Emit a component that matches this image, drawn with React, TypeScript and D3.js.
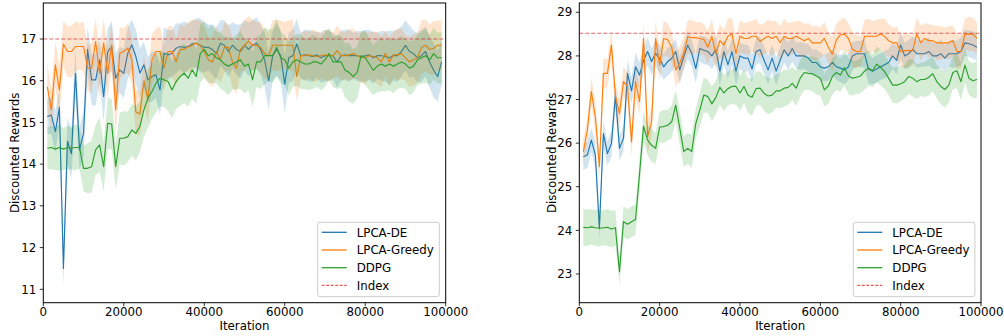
import React from 'react';
import * as d3 from 'd3';

// ---------- data ----------
const ITER = d3.range(1, 100).map((i) => i * 1000);

const L_DE = [
  15.14, 15.18, 14.78, 15.36, 11.5, 14.55, 14.25, 16.18, 14.34, 14.74,
  16.75, 16.02, 16.02, 16.5, 15.62, 16.7, 16.82, 16.06, 16.26, 16.18,
  16.66, 16.86, 16.58, 16.18, 16.38, 16.02, 16.1, 16.14, 15.78, 16.66,
  16.62, 16.66, 16.78, 16.82, 16.8, 16.82, 16.88, 16.9, 16.85, 16.8,
  16.8, 16.75, 16.65, 16.9, 16.85, 16.7, 16.85, 16.75, 16.7, 16.85,
  16.75, 16.85, 16.9, 16.75, 16.5, 16.0, 16.6, 16.75, 16.6, 15.92,
  16.55, 16.6, 16.88, 16.6, 16.62, 16.6, 16.58, 16.62, 16.55, 16.6,
  16.6, 16.6, 16.45, 16.6, 16.62, 16.6, 16.6, 16.6, 16.58, 16.6,
  16.62, 16.55, 16.6, 16.6, 16.58, 16.55, 16.6, 16.6, 16.7, 16.85,
  16.7, 16.65, 16.55, 16.6, 16.7, 16.45, 16.25, 16.1, 16.45,
];
const L_GREEDY = [
  15.86, 15.3, 16.38, 15.78, 16.88, 16.7, 16.7, 16.82, 16.82, 16.82,
  16.3, 16.3, 16.94, 16.18, 16.9, 16.18, 16.86, 15.3, 16.66, 16.7,
  16.78, 16.5, 15.25, 15.2, 16.0, 15.55, 16.5, 16.7, 16.7, 16.3,
  16.7, 16.7, 16.45, 16.75, 16.75, 16.8, 16.85, 16.9, 16.85, 16.7,
  16.5, 16.45, 16.7, 16.5, 16.8, 16.8, 16.45, 16.3, 16.75, 16.85,
  16.95, 16.85, 16.85, 16.8, 16.65, 16.6, 16.85, 16.85, 16.85, 16.85,
  16.85, 16.85, 16.1, 16.6, 16.6, 16.62, 16.6, 16.58, 16.6, 16.62,
  16.6, 16.6, 16.72, 16.6, 16.6, 16.62, 16.65, 16.6, 16.55, 16.55,
  16.6, 16.58, 16.55, 16.45, 16.65, 16.45, 16.62, 16.62, 16.65, 16.55,
  16.45, 16.5, 16.55, 16.8, 16.85, 16.75, 16.78, 16.85, 16.85,
];
const L_DDPG = [
  14.38, 14.4, 14.36, 14.4, 14.36, 14.4, 14.38, 14.4, 14.4, 13.9,
  13.9, 13.94, 14.34, 14.46, 13.94, 14.98, 14.96, 13.94, 14.62, 14.62,
  14.66, 14.82, 14.74, 14.9, 15.3, 15.58, 15.74, 15.94, 16.06, 16.02,
  15.98, 15.78, 15.98, 16.1, 16.18, 16.06, 16.26, 16.1, 16.65, 16.75,
  16.6, 16.65, 16.55, 16.5, 16.4, 16.35, 16.4, 16.45, 16.5, 16.35,
  16.4, 16.02, 16.45, 16.45, 16.6, 16.6, 16.6, 16.8, 16.55, 16.5,
  16.3, 16.45, 16.5, 16.45, 16.4, 16.4, 16.45, 16.45, 16.4, 16.5,
  16.65, 16.45, 16.45, 16.45, 16.25, 16.2, 16.1, 16.2, 16.6, 16.55,
  16.4, 16.25, 16.35, 16.4, 16.35, 16.4, 16.35, 16.4, 16.45, 16.4,
  16.3, 16.35, 16.5, 16.55, 16.6, 16.5, 16.65, 16.55, 16.55,
];
const L_DE_STD = [
  0.42, 0.45, 0.5, 0.45, 0.42, 0.55, 0.6, 0.6, 0.5, 0.55,
  0.55, 0.6, 0.62, 0.55, 0.6, 0.55, 0.6, 0.6, 0.55, 0.6,
  0.62, 0.6, 0.65, 0.6, 0.55, 0.55, 0.6, 0.55, 0.6, 0.62,
  0.6, 0.55, 0.6, 0.55, 0.62, 0.55, 0.55, 0.6, 0.65, 0.6,
  0.55, 0.6, 0.62, 0.55, 0.6, 0.62, 0.55, 0.6, 0.65, 0.6,
  0.65, 0.6, 0.62, 0.6, 0.65, 0.7, 0.6, 0.62, 0.6, 0.7,
  0.6, 0.62, 0.6, 0.55, 0.6, 0.62, 0.6, 0.55, 0.6, 0.62,
  0.6, 0.55, 0.62, 0.6, 0.6, 0.62, 0.55, 0.6, 0.6, 0.62,
  0.6, 0.62, 0.55, 0.6, 0.6, 0.65, 0.6, 0.62, 0.6, 0.6,
  0.62, 0.55, 0.6, 0.62, 0.6, 0.62, 0.65, 0.6, 0.55,
];
const L_GREEDY_STD = [
  0.55, 0.5, 0.55, 0.6, 0.55, 0.6, 0.62, 0.6, 0.55, 0.6,
  0.55, 0.6, 0.55, 0.6, 0.58, 0.6, 0.55, 0.6, 0.62, 0.55,
  0.6, 0.55, 0.55, 0.5, 0.6, 0.55, 0.6, 0.55, 0.6, 0.55,
  0.6, 0.62, 0.55, 0.6, 0.55, 0.6, 0.62, 0.55, 0.6, 0.6,
  0.55, 0.6, 0.62, 0.55, 0.6, 0.55, 0.6, 0.62, 0.55, 0.6,
  0.6, 0.62, 0.55, 0.6, 0.6, 0.55, 0.6, 0.62, 0.6, 0.55,
  0.6, 0.62, 0.6, 0.55, 0.6, 0.55, 0.62, 0.6, 0.55, 0.6,
  0.62, 0.55, 0.6, 0.6, 0.55, 0.62, 0.6, 0.55, 0.6, 0.62,
  0.55, 0.6, 0.62, 0.6, 0.55, 0.6, 0.55, 0.62, 0.6, 0.55,
  0.6, 0.62, 0.6, 0.65, 0.62, 0.6, 0.65, 0.6, 0.6,
];
const L_DDPG_STD = [
  0.5, 0.52, 0.5, 0.55, 0.5, 0.52, 0.5, 0.55, 0.5, 0.55,
  0.6, 0.62, 0.6, 0.65, 0.58, 0.62, 0.6, 0.55, 0.62, 0.65,
  0.6, 0.62, 0.65, 0.6, 0.65, 0.7, 0.65, 0.7, 0.68, 0.65,
  0.7, 0.68, 0.65, 0.7, 0.72, 0.68, 0.7, 0.65, 0.7, 0.68,
  0.65, 0.7, 0.62, 0.68, 0.65, 0.7, 0.62, 0.65, 0.7, 0.65,
  0.62, 0.65, 0.6, 0.65, 0.68, 0.62, 0.65, 0.7, 0.62, 0.6,
  0.65, 0.6, 0.62, 0.65, 0.6, 0.62, 0.65, 0.6, 0.62, 0.65,
  0.62, 0.6, 0.65, 0.62, 0.65, 0.7, 0.65, 0.62, 0.6, 0.65,
  0.62, 0.6, 0.62, 0.65, 0.6, 0.62, 0.65, 0.6, 0.62, 0.6,
  0.65, 0.62, 0.6, 0.62, 0.65, 0.6, 0.62, 0.6, 0.62,
];

const R_DE = [
  25.69, 25.73, 26.07, 25.73, 24.05, 26.22, 25.76, 25.99, 27.1, 25.88,
  26.11, 27.6, 27.2, 27.75, 27.56, 27.9, 28.1, 27.87, 28.06, 27.94,
  27.75, 27.87, 27.94, 28.1, 27.68, 27.98, 28.25, 28.06, 27.71, 28.17,
  28.13, 28.1, 28.0, 28.15, 27.65, 28.1, 27.8, 28.1, 27.65, 28.0,
  27.95, 27.95, 27.7, 28.1, 28.14, 27.9, 27.68, 27.95, 27.65, 27.9,
  28.14, 28.0, 28.17, 28.0, 28.0, 28.0, 27.95, 27.85, 27.85, 27.75,
  27.72, 27.75, 27.85, 27.75, 27.72, 27.68, 27.75, 28.0, 28.05, 28.05,
  28.05, 27.7, 27.65, 27.7, 27.75, 27.8, 27.85, 28.0, 27.9, 28.25,
  28.0, 28.05, 28.15, 28.05, 28.05, 28.05, 28.1, 28.0, 28.0, 28.05,
  27.95, 28.05, 28.05, 28.05, 28.1, 28.3, 28.28, 28.25, 28.2,
];
const R_GREEDY = [
  25.8, 26.3, 27.18, 26.6, 25.46, 27.6, 27.6, 28.25, 27.07, 26.68,
  27.41, 27.3, 26.03, 27.41, 26.95, 28.4, 26.15, 26.5, 28.4, 27.79,
  28.4, 28.37, 28.2, 27.68, 27.83, 28.06, 28.44, 28.42, 28.42, 28.4,
  28.38, 28.2, 28.45, 28.05, 28.35, 28.25, 28.45, 28.5, 28.05, 28.45,
  28.4, 28.4, 28.45, 28.45, 28.33, 28.4, 28.45, 28.4, 28.45, 28.3,
  28.45, 28.4, 28.4, 28.45, 28.4, 28.35, 28.4, 28.3, 28.3, 28.3,
  28.4, 28.2, 28.04, 28.37, 28.48, 28.5, 28.4, 28.15, 28.1, 28.1,
  28.45, 28.45, 28.45, 28.45, 28.5, 28.45, 28.35, 28.3, 28.3, 28.1,
  28.12, 28.12, 28.12, 28.5, 28.3, 28.4, 28.35, 28.35, 28.3, 28.3,
  28.3, 28.3, 28.35, 28.1, 28.1, 28.5, 28.5, 28.5, 28.4,
];
const R_DDPG = [
  24.07, 24.06, 24.08, 24.06, 24.05, 24.06, 24.07, 24.03, 24.06, 23.05,
  24.2, 24.14, 24.2, 24.25, 25.3, 26.39, 26.07, 25.95, 25.88, 26.37,
  26.38, 26.41, 26.49, 26.87, 26.35, 25.81, 25.88, 25.81, 26.45, 26.76,
  27.1, 27.07, 26.9, 27.05, 27.28, 27.15, 27.25, 27.3, 27.3, 27.15,
  27.3, 27.1, 27.05, 27.25, 27.26, 27.14, 27.08, 27.1, 27.2, 27.2,
  27.26, 27.28, 27.37, 27.26, 27.49, 27.62, 27.6, 27.59, 27.54, 27.49,
  27.22, 27.31, 27.53, 27.62, 27.56, 27.73, 27.54, 27.49, 27.51, 27.54,
  27.65, 27.72, 27.66, 27.81, 27.74, 27.64, 27.49, 27.33, 27.33, 27.36,
  27.41, 27.53, 27.49, 27.41, 27.46, 27.46, 27.51, 27.59, 27.41, 27.3,
  27.23, 27.33, 27.62, 27.66, 27.41, 27.79, 27.49, 27.43, 27.46,
];
const R_DE_STD = [
  0.3, 0.3, 0.28, 0.3, 0.25, 0.3, 0.28, 0.3, 0.3, 0.28,
  0.3, 0.32, 0.3, 0.32, 0.3, 0.3, 0.32, 0.3, 0.3, 0.32,
  0.3, 0.32, 0.3, 0.3, 0.32, 0.3, 0.32, 0.3, 0.33, 0.3,
  0.32, 0.3, 0.3, 0.32, 0.33, 0.3, 0.32, 0.3, 0.33, 0.3,
  0.32, 0.3, 0.32, 0.3, 0.3, 0.32, 0.33, 0.3, 0.32, 0.3,
  0.3, 0.32, 0.3, 0.3, 0.32, 0.3, 0.32, 0.3, 0.3, 0.32,
  0.3, 0.32, 0.3, 0.3, 0.32, 0.33, 0.3, 0.32, 0.3, 0.3,
  0.32, 0.33, 0.3, 0.32, 0.3, 0.32, 0.3, 0.3, 0.32, 0.3,
  0.3, 0.32, 0.3, 0.32, 0.3, 0.3, 0.32, 0.3, 0.3, 0.32,
  0.3, 0.3, 0.32, 0.3, 0.32, 0.3, 0.3, 0.32, 0.3,
];
const R_GREEDY_STD = [
  0.3, 0.3, 0.32, 0.35, 0.3, 0.35, 0.32, 0.35, 0.3, 0.32,
  0.35, 0.32, 0.35, 0.35, 0.3, 0.35, 0.38, 0.35, 0.4, 0.35,
  0.4, 0.38, 0.35, 0.38, 0.4, 0.35, 0.38, 0.4, 0.35, 0.38,
  0.35, 0.38, 0.4, 0.35, 0.38, 0.35, 0.4, 0.38, 0.35, 0.38,
  0.35, 0.38, 0.35, 0.4, 0.38, 0.35, 0.38, 0.4, 0.35, 0.38,
  0.4, 0.35, 0.38, 0.35, 0.4, 0.38, 0.35, 0.38, 0.4, 0.35,
  0.38, 0.35, 0.4, 0.38, 0.35, 0.38, 0.35, 0.4, 0.38, 0.35,
  0.38, 0.4, 0.35, 0.38, 0.35, 0.4, 0.38, 0.35, 0.38, 0.35,
  0.4, 0.38, 0.35, 0.38, 0.4, 0.35, 0.38, 0.35, 0.4, 0.38,
  0.35, 0.38, 0.35, 0.4, 0.38, 0.35, 0.4, 0.38, 0.35,
];
const R_DDPG_STD = [
  0.42, 0.42, 0.4, 0.42, 0.42, 0.4, 0.42, 0.42, 0.4, 0.3,
  0.35, 0.35, 0.35, 0.35, 0.35, 0.35, 0.35, 0.38, 0.35, 0.35,
  0.38, 0.35, 0.38, 0.35, 0.38, 0.35, 0.35, 0.38, 0.35, 0.38,
  0.4, 0.38, 0.4, 0.38, 0.4, 0.42, 0.38, 0.4, 0.42, 0.4,
  0.38, 0.4, 0.42, 0.4, 0.38, 0.4, 0.42, 0.4, 0.38, 0.4,
  0.42, 0.4, 0.38, 0.4, 0.42, 0.4, 0.38, 0.4, 0.42, 0.4,
  0.38, 0.4, 0.42, 0.4, 0.38, 0.4, 0.42, 0.4, 0.38, 0.4,
  0.42, 0.4, 0.38, 0.4, 0.42, 0.4, 0.38, 0.4, 0.42, 0.4,
  0.38, 0.4, 0.42, 0.4, 0.38, 0.4, 0.42, 0.4, 0.38, 0.4,
  0.42, 0.4, 0.38, 0.4, 0.42, 0.4, 0.38, 0.4, 0.42,
];

const LEFT_INDEX = 17;
const RIGHT_INDEX = 28.52;
const LEFT_YTICKS = [11, 12, 13, 14, 15, 16, 17];
const RIGHT_YTICKS = [23, 24, 25, 26, 27, 28, 29];
const XTICKS = [0, 20000, 40000, 60000, 80000, 100000];
const SERIES_NAMES = ['LPCA-DE', 'LPCA-Greedy', 'DDPG'];
const COLORS = ['#1f77b4', '#ff7f0e', '#2ca02c'];
const INDEX_COLOR = '#d62728';

const FONT = '"DejaVu Sans", sans-serif';
const FS = 11.8;

type Panel = {
  x0: number;
  x1: number;
  yDomain: [number, number];
  yTicks: number[];
  means: number[][];
  stds: number[][];
  index: number;
  ylabelX: number;
  legendX: number;
};

const TOP = 3;
const BOTTOM = 302.7;

function ChartPanel({ p }: { p: Panel }) {
  const x = d3.scaleLinear().domain([0, 100000]).range([p.x0, p.x1]);
  const y = d3.scaleLinear().domain(p.yDomain).range([BOTTOM, TOP]);
  const line = d3
    .line<number>()
    .x((_, i) => x(ITER[i]))
    .y((d) => y(d));
  const clipId = `clip-${Math.round(p.x0)}`;

  return (
    <g>
      <defs>
        <clipPath id={clipId}>
          <rect x={p.x0} y={TOP} width={p.x1 - p.x0} height={BOTTOM - TOP} />
        </clipPath>
      </defs>
      <g clipPath={`url(#${clipId})`}>
        {p.means.map((m, si) => {
          const sd = p.stds[si];
          const area = d3
            .area<number>()
            .x((_, i) => x(ITER[i]))
            .y0((d, i) => y(d - (sd[i] ?? sd[sd.length - 1])))
            .y1((d, i) => y(d + (sd[i] ?? sd[sd.length - 1])));
          return (
            <g key={si}>
              <path d={area(m) || ''} fill={COLORS[si]} fillOpacity={0.2} stroke="none" />
              <path d={line(m) || ''} fill="none" stroke={COLORS[si]} strokeWidth={1.15} strokeLinejoin="round" />
            </g>
          );
        })}
        <line
          x1={x(0)}
          x2={x(100000)}
          y1={y(p.index)}
          y2={y(p.index)}
          stroke={INDEX_COLOR}
          strokeOpacity={0.7}
          strokeWidth={1.2}
          strokeDasharray="4,2"
        />
      </g>
      {/* frame */}
      <rect x={p.x0} y={TOP} width={p.x1 - p.x0} height={BOTTOM - TOP} fill="none" stroke="#000" strokeWidth={1} />
      {/* x ticks */}
      {XTICKS.map((t) => (
        <g key={t}>
          <line x1={x(t)} x2={x(t)} y1={BOTTOM} y2={BOTTOM + 3.5} stroke="#000" strokeWidth={0.8} />
          <text x={x(t)} y={315.5} textAnchor="middle" fontFamily={FONT} fontSize={FS} fill="#000">
            {t}
          </text>
        </g>
      ))}
      {/* y ticks */}
      {p.yTicks.map((t) => (
        <g key={t}>
          <line x1={p.x0 - 3.5} x2={p.x0} y1={y(t)} y2={y(t)} stroke="#000" strokeWidth={0.8} />
          <text x={p.x0 - 7} y={y(t) + 4.2} textAnchor="end" fontFamily={FONT} fontSize={FS} fill="#000">
            {t}
          </text>
        </g>
      ))}
      <text x={(p.x0 + p.x1) / 2} y={330} textAnchor="middle" fontFamily={FONT} fontSize={FS} fill="#000">
        Iteration
      </text>
      <text
        transform={`translate(${p.ylabelX},${(TOP + BOTTOM) / 2}) rotate(-90)`}
        textAnchor="middle"
        fontFamily={FONT}
        fontSize={FS}
        fill="#000"
      >
        Discounted Rewards
      </text>
      {/* legend */}
      <g transform={`translate(${p.legendX},222.3)`}>
        <rect x={0} y={0} width={121.6} height={74.4} rx={2.5} fill="#fff" fillOpacity={0.8} stroke="#ccc" strokeWidth={1} />
        {SERIES_NAMES.map((n, i) => (
          <g key={n} transform={`translate(0,${10 + i * 17.7})`}>
            <line x1={4} x2={29} y1={0} y2={0} stroke={COLORS[i]} strokeWidth={1.3} />
            <text x={39} y={4.2} fontFamily={FONT} fontSize={FS} fill="#000">
              {n}
            </text>
          </g>
        ))}
        <g transform={`translate(0,${10 + 3 * 17.7})`}>
          <line x1={4} x2={29} y1={0} y2={0} stroke={INDEX_COLOR} strokeOpacity={0.75} strokeWidth={1.2} strokeDasharray="3,1.5" />
          <text x={39} y={4.2} fontFamily={FONT} fontSize={FS} fill="#000">
            Index
          </text>
        </g>
      </g>
    </g>
  );
}

const PANELS: Panel[] = [
  {
    x0: 43.3,
    x1: 445.7,
    yDomain: [10.679, 17.863],
    yTicks: LEFT_YTICKS,
    means: [L_DE, L_GREEDY, L_DDPG],
    stds: [L_DE_STD, L_GREEDY_STD, L_DDPG_STD],
    index: LEFT_INDEX,
    ylabelX: 19.3,
    legendX: 317.7,
  },
  {
    x0: 579.3,
    x1: 981,
    yDomain: [22.342, 29.213],
    yTicks: RIGHT_YTICKS,
    means: [R_DE, R_GREEDY, R_DDPG],
    stds: [R_DE_STD, R_GREEDY_STD, R_DDPG_STD],
    index: RIGHT_INDEX,
    ylabelX: 556,
    legendX: 853.3,
  },
];

export default function App() {
  return (
    <svg
      width={1004}
      height={336}
      viewBox="0 0 1004 336"
      style={{ position: 'absolute', left: 0, top: 0, background: '#fff' }}
    >
      <rect width={1004} height={336} fill="#fff" />
      {PANELS.map((p, i) => (
        <ChartPanel key={i} p={p} />
      ))}
    </svg>
  );
}
